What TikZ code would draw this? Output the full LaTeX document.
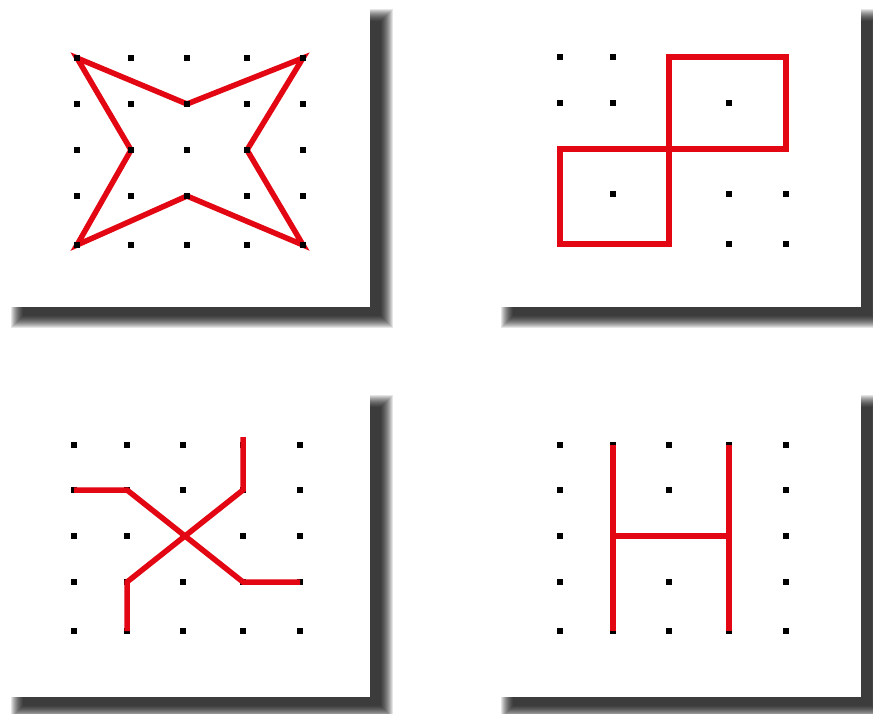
\documentclass[tikz,border=0pt]{standalone}
\usetikzlibrary{calc}
\definecolor{rline}{RGB}{227,6,19}
\tikzset{
  redline/.style={draw=rline, line width=5.5pt, line join=miter},
  panel/.style={fill=white, draw=none},
}
\newcommand{\mkshadow}[4]{%
  \foreach \k in {-6,...,6}{%
    \fill[black, opacity=0.101] ({#1+17+\k},{#2+15+\k}) rectangle ({#3+17-\k},{#4+15-\k});
  }}
\newcommand{\mkgrid}[3]{%
  \foreach \xx [count=\i from 0] in {#2}{%
    \foreach \yy [count=\j from 0] in {#3}{%
      \coordinate (#1-\i-\j) at (\xx,\yy);
    }}}
\newcommand{\mkdots}[1]{%
  \foreach \i in {0,...,4}{%
    \foreach \j in {0,...,4}{%
      \fill[black] (#1-\i-\j) ++(-3.3,-3.3) rectangle ++(6.6,6.6);
    }}}
\begin{document}
\begin{tikzpicture}[x=1pt,y=-1pt]
\useasboundingbox (0,0) rectangle (873,714);
\fill[white] (0,0) rectangle (873,714);
% shadows
\mkshadow{0}{0}{370}{307}
\mkshadow{490}{0}{861}{307}
\mkshadow{0}{386}{370}{697}
\mkshadow{490}{386}{861}{697}
% panels
\fill[panel] (0,0) rectangle (370,307);
\fill[panel] (490,0) rectangle (861,307);
\fill[panel] (0,386) rectangle (370,697);
\fill[panel] (490,386) rectangle (861,697);
% grids
\mkgrid{A}{77,131,187,247,303}{58,104,150,196,245}
\mkgrid{B}{560,613,669,729,786}{57,103,149,194,244}
\mkgrid{C}{74,127,183,243,300}{445,490,536,582,631}
\mkgrid{D}{560,613,669,729,786}{445,490,536,582,631}
% panel 1: star
\draw[redline] (A-0-0) -- (A-2-1) -- (A-4-0) -- (A-3-2) -- (A-4-4) -- (A-2-3) -- (A-0-4) -- (A-1-2) -- cycle;
\mkdots{A}
% panel 2: two squares
\mkdots{B}
\draw[redline] (B-2-0) rectangle (B-4-2);
\draw[redline] (B-0-2) rectangle (B-2-4);
% panel 3: crossing paths
\mkdots{C}
\draw[redline] (C-0-1) -- (C-1-1) -- (C-3-3) -- (C-4-3);
\draw[redline] ($(C-3-0)+(0,-8)$) -- (C-3-1) -- (C-1-3) -- (C-1-4);
% panel 4: H
\mkdots{D}
\draw[redline] (D-1-0) -- (D-1-4);
\draw[redline] (D-3-0) -- (D-3-4);
\draw[redline] (D-1-2) -- (D-3-2);
\end{tikzpicture}
\end{document}
